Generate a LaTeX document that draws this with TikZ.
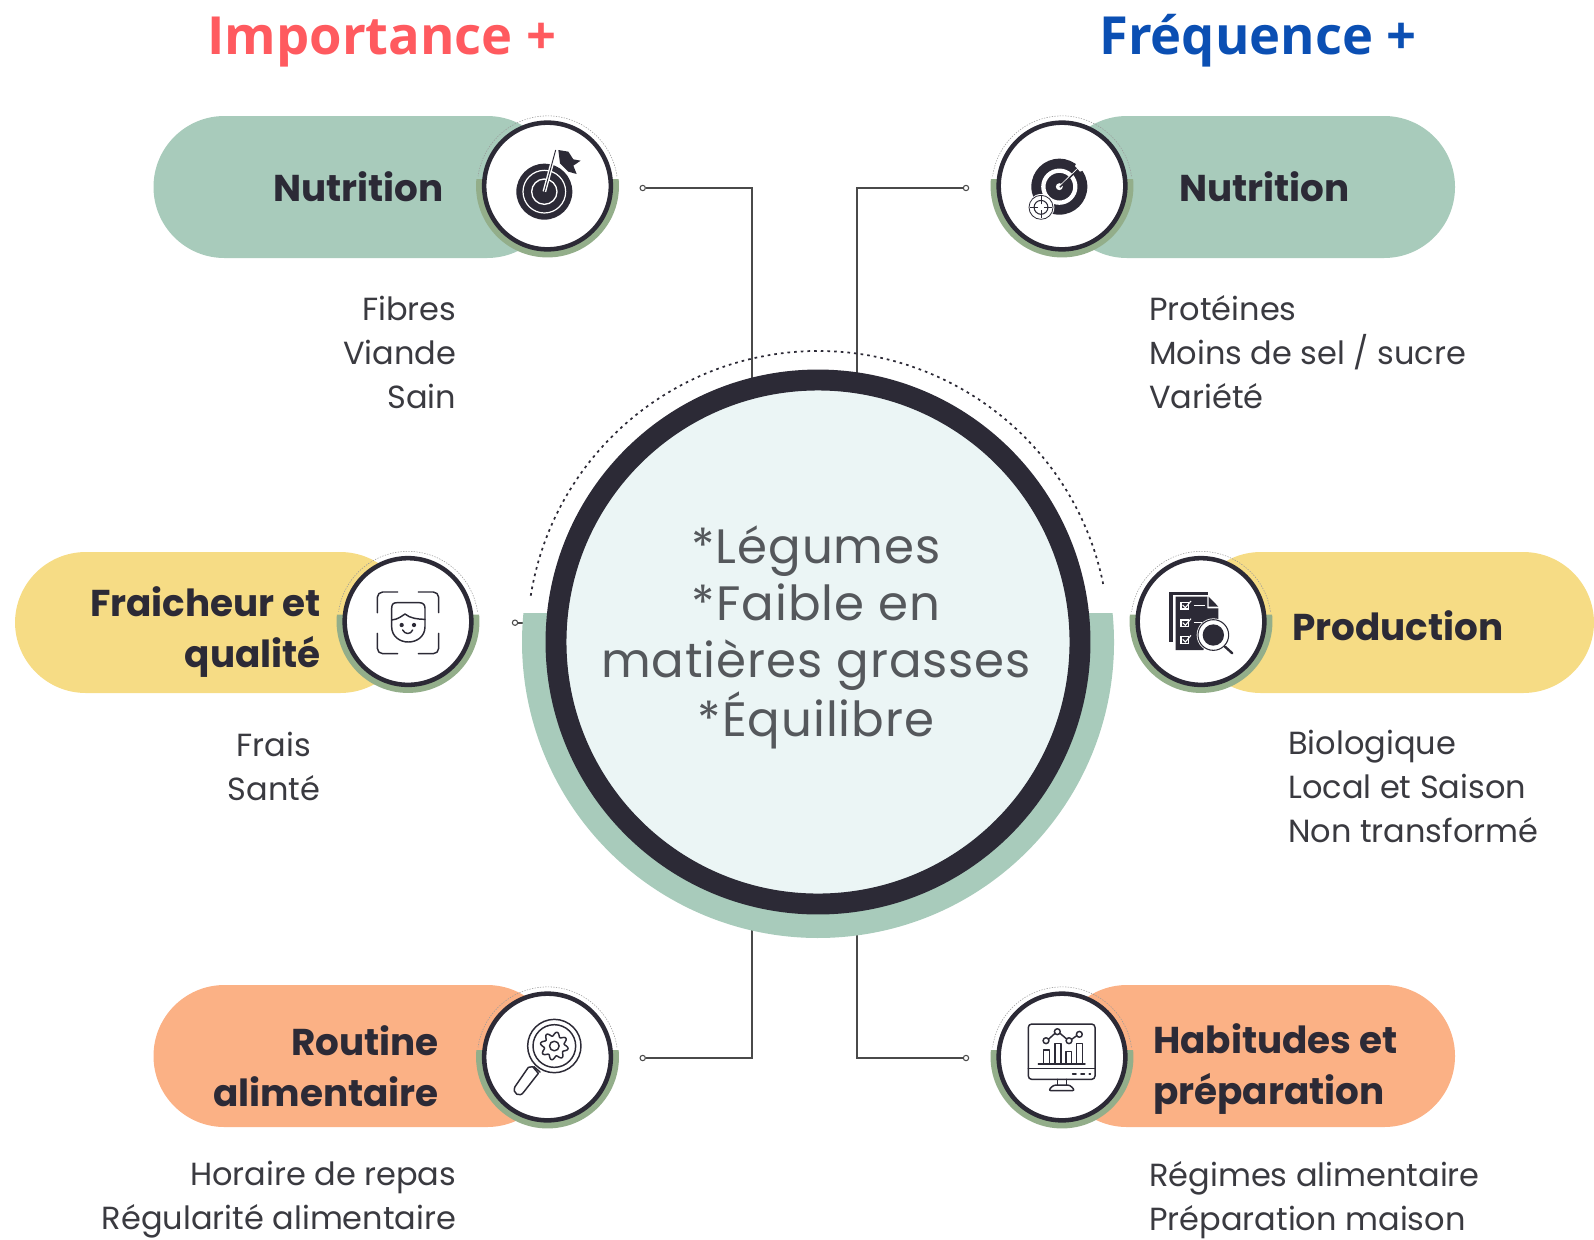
\documentclass[tikz,border=0pt]{standalone}
\usepackage{fontspec}
\usetikzlibrary{calc}
\setmainfont{Poppins}
\newfontfamily\headfont{Open Sans}
\newfontfamily\centerfont{Poppins}[LetterSpace=2]
\newfontfamily\boldlabel{Poppins}[UprightFont=* Bold]
\definecolor{ringdark}{HTML}{2C2A36}
\definecolor{softgreen}{HTML}{A8CBBB}
\definecolor{olive}{HTML}{93AE8A}
\definecolor{paleblue}{HTML}{EBF5F5}
\definecolor{pillyellow}{HTML}{F6DC85}
\definecolor{pillorange}{HTML}{FBB185}
\definecolor{headred}{HTML}{FF5A5F}
\definecolor{headblue}{HTML}{0B4FB3}
\definecolor{bodygrey}{HTML}{3A3A40}
\definecolor{titlegrey}{HTML}{55585C}
\definecolor{linegrey}{HTML}{4A4A4A}
\tikzset{
  pillshape/.style={rounded corners=53.2pt},
  badgenode/.style={circle,draw=ringdark,fill=white,line width=3.4pt,minimum size=95pt,inner sep=0pt,outer sep=0pt},
  dotarc/.style={draw=black!40,line width=.4pt,dash pattern=on 1pt off 1pt},
  conn/.style={draw=linegrey,line width=1.2pt},
  dotnode/.style={circle,draw=linegrey,fill=white,line width=.8pt,minimum size=4pt,inner sep=0pt},
  headtext/.style={font=\headfont\bfseries\fontsize{39.4}{44}\selectfont,anchor=base,inner sep=0pt},
  labeltext/.style={font=\boldlabel\fontsize{28}{38}\selectfont,text=ringdark,inner sep=0pt},
  bodytext/.style={font=\fontsize{24}{33}\selectfont,text=bodygrey,inner sep=0pt},
  iconunits/.style={x=.25pt,y=-.25pt},
  iconline/.style={draw=ringdark,line width=1.1pt,line cap=round,line join=round},
  iconfill/.style={fill=ringdark,draw=none},
}
\newcommand{\badgeback}[2]{%
  \fill[olive] ($(#1,#2)+(5.6:53.6pt)$) arc[start angle=5.6,end angle=-185.6,radius=53.6pt] -- cycle;
  \draw[dotarc] ($(#1,#2)+(8:52.6pt)$) arc[start angle=8,end angle=172,radius=52.6pt];
}
\begin{document}
\begin{tikzpicture}[x=.75pt,y=-.75pt]
\useasboundingbox (0,0) rectangle (1594,1239);
% connectors' ends
\node[dotnode] (dotTL) at (642.7,188) {};
\node[dotnode] (dotTR) at (966,188) {};
\node[dotnode] (dotBL) at (642.7,1058) {};
\node[dotnode] (dotBR) at (966,1058) {};
\node[dotnode] (dotML) at (515,622.7) {};
\coordinate (entryTL) at (752,400);
\coordinate (entryTR) at (857,400);
\coordinate (entryBL) at (752,900);
\coordinate (entryBR) at (857,900);
\coordinate (entryML) at (535,622.7);
\draw[conn] (dotTL) -| (entryTL);
\draw[conn] (dotTR) -| (entryTR);
\draw[conn] (dotBL) -| (entryBL);
\draw[conn] (dotBR) -| (entryBR);
\draw[conn] (dotML) -- (entryML);
% central disc
\fill[softgreen] ($(818,642)+(5.6:222pt)$) arc[start angle=5.6,end angle=-185.6,radius=222pt] -- cycle;
\draw[draw=ringdark,line width=1.3pt,dash pattern=on 2pt off 3pt] ($(818,642)+(11.5:218.25pt)$) arc[start angle=11.5,end angle=171.6,radius=218.25pt];
\node[circle,draw=ringdark,fill=paleblue,line width=15.7pt,minimum size=393pt,inner sep=0pt,outer sep=0pt] (main) at (818,642) {};
\node[font=\centerfont\fontsize{36.2}{42.6}\selectfont,text=titlegrey,align=center,inner sep=0pt] (maintext) at (816,637.5) {*Légumes\\*Faible en\\matières grasses\\*Équilibre};
% titles
\node[headtext,text=headred] (titleL) at (382,54) {Importance +};
\node[headtext,text=headblue] (titleR) at (1258,54) {Fréquence +};
% pills
\fill[softgreen,pillshape] (153.5,116) rectangle (558,258);
\fill[softgreen,pillshape] (1056,116) rectangle (1455,258);
\fill[pillyellow,pillshape] (15,552) rectangle (411,693);
\fill[pillyellow,pillshape] (1190,552) rectangle (1594,693);
\fill[pillorange,pillshape] (153.5,985) rectangle (558,1127);
\fill[pillorange,pillshape] (1056,985) rectangle (1455,1127);
% badges
\badgeback{547.5}{186}
\badgeback{1062}{186}
\badgeback{408}{621.5}
\badgeback{1201}{621.5}
\badgeback{547.5}{1057}
\badgeback{1062}{1057}
\node[badgenode] (bTL) at (547.5,186) {};
\node[badgenode] (bTR) at (1062,186) {};
\node[badgenode] (bML) at (408,621.5) {};
\node[badgenode] (bMR) at (1201,621.5) {};
\node[badgenode] (bBL) at (547.5,1057) {};
\node[badgenode] (bBR) at (1062,1057) {};
% icon: target with flag
\begin{scope}[shift={(460,100)},iconunits]
  \fill[ringdark] (253,275) circle[radius=21pt];
  \draw[white,line width=.9pt] (253,275) circle[radius=16pt];
  \draw[white,line width=1pt] (253,275) circle[radius=9.5pt];
  \fill[ringdark] (295,150) -- (325,155) -- (340,178) -- (362,182) -- (340,197) -- (350,222) -- (325,215) -- (300,190) -- cycle;
  \draw[white,line width=2.8pt] (253,275) -- (287,150);
  \draw[ringdark,line width=.7pt] (253,275) -- (287,150);
\end{scope}
% icon: target with arrow
\begin{scope}[shift={(970,100)},iconunits]
  \fill[ringdark] (268,260) circle[radius=21pt];
  \draw[white,line width=3.2pt] (268,260) circle[radius=12pt];
  \fill[white] (268,260) circle[radius=2.6pt];
  \draw[white,line width=1.2pt] (268,260) -- (325,205);
  \fill[ringdark] (268,260) -- (325,205) -- (328,208) -- (271,263) -- cycle;
  \fill[white] (315,198) -- (325,178) -- (332,190) -- (352,188) -- (342,210) -- (330,215) -- cycle;
  \fill[white] (213,322) circle[radius=10pt];
  \draw[ringdark,line width=.6pt] (213,322) circle[radius=9pt];
  \draw[ringdark,line width=.8pt] (213,322) circle[radius=5.2pt];
  \foreach \a in {0,90,180,270} \draw[ringdark,line width=.6pt] (213,322) ++(\a:2.2pt) -- ++(\a:6pt);
\end{scope}
% icon: face
\begin{scope}[shift={(320,540)},iconunits]
  \draw[iconline] (172,218) -- (172,172) arc[start angle=180,end angle=90,radius=4pt] -- (233,156);
  \draw[iconline] (295,156) -- (340,156) arc[start angle=90,end angle=0,radius=4pt] -- (356,218);
  \draw[iconline] (172,280) -- (172,325) arc[start angle=180,end angle=270,radius=4pt] -- (233,341);
  \draw[iconline] (295,341) -- (340,341) arc[start angle=270,end angle=360,radius=4pt] -- (356,280);
  \draw[iconline] (215,205) .. controls (215,190) and (222,188) .. (232,188) -- (298,188) .. controls (310,188) and (315,195) .. (315,205) -- (315,260) .. controls (315,290) and (290,306) .. (265,306) .. controls (240,306) and (215,290) .. (215,260) -- cycle;
  \draw[iconline] (215,240) .. controls (235,238) and (245,228) .. (255,222) .. controls (270,235) and (295,238) .. (315,238);
  \fill[ringdark] (245,255) circle[radius=1.6pt] (282,255) circle[radius=1.6pt];
  \draw[iconline] (248,270) .. controls (255,284) and (272,284) .. (278,270);
\end{scope}
% icon: checklist
\begin{scope}[shift={(1110,540)},iconunits]
  \fill[ringdark] (178,155) rectangle (295,164);
  \fill[ringdark] (178,155) rectangle (188,305);
  \fill[ringdark] (197,170) -- (292,170) -- (292,205) -- (325,205) -- (325,240) -- (280,330) -- (197,330) -- cycle;
  \fill[ringdark] (296,170) -- (325,200) -- (296,200) -- cycle;
  \foreach \y in {197,250,300} {
    \draw[white,line width=1pt] (213,\y-10) rectangle (235,\y+10);
    \draw[white,line width=.8pt] (218,\y-2) -- (226,\y+6) -- (243,\y-14);
  }
  \draw[white,line width=.9pt] (252,197) -- (285,197);
  \draw[white,line width=.9pt] (252,247) -- (275,247);
  \fill[white] (310,285) circle[radius=12.5pt];
  \draw[ringdark,line width=.8pt] (310,285) circle[radius=11.5pt];
  \fill[ringdark] (310,285) circle[radius=8pt];
  \draw[ringdark,line width=1.8pt,line cap=round] (345,320) -- (367,340);
\end{scope}
% icon: magnifier and gear
\begin{scope}[shift={(460,970)},iconunits]
  \draw[iconline] (283,228) circle[radius=20pt];
  \draw[iconline] (283,228) circle[radius=16pt];
  \draw[iconline,smooth,samples=97,domain=0:360] plot ({283+36*cos(\x)+6*sin(8*\x)*cos(\x)},{228+36*sin(\x)+6*sin(8*\x)*sin(\x)}) -- cycle;
  \draw[iconline] (283,228) circle[radius=3.6pt];
  \draw[iconline] (222,290) -- (240,306);
  \draw[iconline] (205,292) -- (165,350) .. controls (155,370) and (180,385) .. (192,365) -- (235,310) -- (218,290) -- cycle;
\end{scope}
% icon: monitor
\begin{scope}[shift={(970,970)},iconunits]
  \draw[iconline,rounded corners=2.5pt] (175,162) rectangle (375,328);
  \draw[iconline] (175,295) -- (375,295);
  \draw[iconline] (262,328) -- (262,345) (290,328) -- (290,345);
  \draw[iconline,rounded corners=2pt] (235,362) -- (250,345) -- (300,345) -- (315,362) -- cycle;
  \draw[iconline] (205,282) -- (345,282);
  \draw[iconline] (220,282) -- (220,240) -- (238,240) -- (238,282);
  \draw[iconline] (255,282) -- (255,220) -- (273,220) -- (273,282);
  \draw[iconline] (288,282) -- (288,245) -- (305,245) -- (305,282);
  \draw[iconline] (320,282) -- (320,220) -- (338,220) -- (338,282);
  \draw[iconline] (235,208) -- (255,190) (270,190) -- (290,207) (305,208) -- (320,197);
  \foreach \p in {(228,212),(262,185),(297,212),(328,193)} \draw[iconline] \p circle[radius=2.2pt];
  \draw[ringdark,line width=1.3pt,line cap=round] (308,313) -- (318,313) (333,313) -- (343,313) (358,313) -- (361,313);
\end{scope}
% pill labels
\node[labeltext,anchor=base east] (lTL) at (444,201) {Nutrition};
\node[labeltext,anchor=base west] (lTR) at (1179,201) {Nutrition};
\node[labeltext,align=right,anchor=east] (lML) at (321,632) {Fraicheur et\\qualité};
\node[labeltext,anchor=base west] (lMR) at (1292,640) {Production};
\node[labeltext,align=right,anchor=east] (lBL) at (439,1066) {Routine\\alimentaire};
\node[labeltext,align=left,anchor=west] (lBR) at (1153,1069) {Habitudes et\\préparation};
% body labels
\node[bodytext,align=right,anchor=east] (tTL) at (456.5,352) {Fibres\\Viande\\Sain};
\node[bodytext,align=left,anchor=west] (tTR) at (1149,352) {Protéines\\Moins de sel / sucre\\Variété};
\node[bodytext,align=center] (tML) at (274,766) {Frais\\Santé};
\node[bodytext,align=left,anchor=west] (tMR) at (1288,786) {Biologique\\Local et Saison\\Non transformé};
\node[bodytext,align=right,anchor=east] (tBL) at (456.5,1200) {Horaire de repas\\Régularité alimentaire};
\node[bodytext,align=left,anchor=west] (tBR) at (1149,1200) {Régimes alimentaire\\Préparation maison};
\end{tikzpicture}
\end{document}
